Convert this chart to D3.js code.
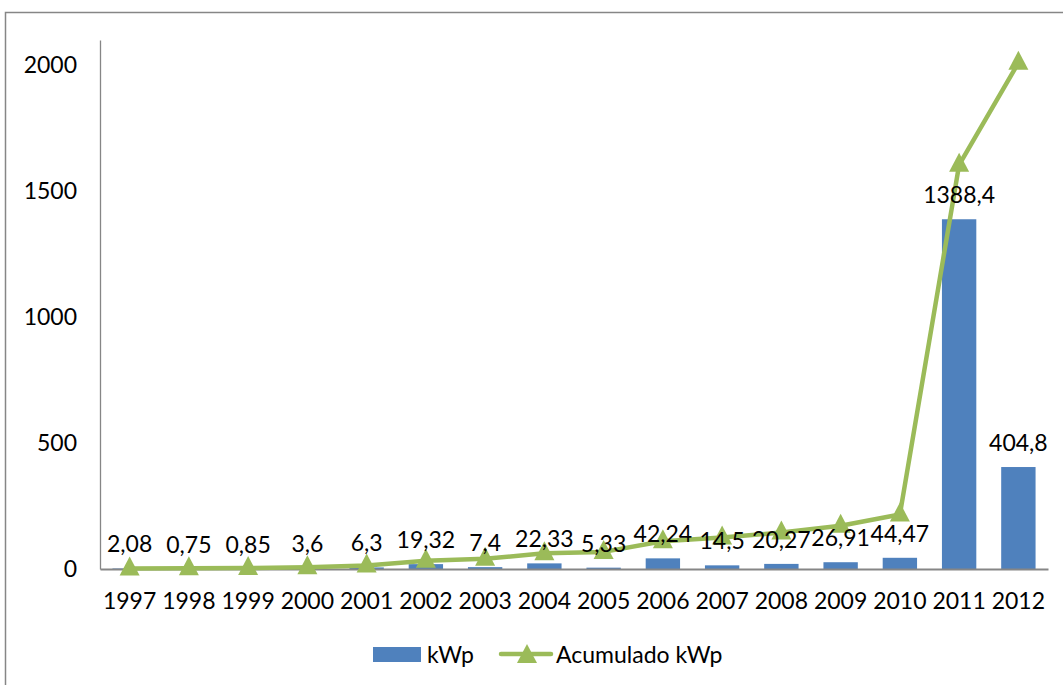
<!DOCTYPE html>
<html>
<head>
<meta charset="utf-8">
<script src="https://cdn.jsdelivr.net/npm/d3@7"></script>
<style>
  html, body { margin: 0; padding: 0; background: #ffffff; }
  svg { display: block; }
  text { font-family: Lato, "Open Sans", sans-serif; fill: #000; }
</style>
</head>
<body>
<script>
// Annual installed photovoltaic capacity and running total
const years = ["1997","1998","1999","2000","2001","2002","2003","2004","2005","2006","2007","2008","2009","2010","2011","2012"];
const kwp = [2.08, 0.75, 0.85, 3.6, 6.3, 19.32, 7.4, 22.33, 5.33, 42.24, 14.5, 20.27, 26.91, 44.47, 1388.4, 404.8];
const acumulado = [2.08, 2.83, 3.68, 7.28, 13.58, 32.9, 40.3, 62.63, 67.96, 110.2, 124.7, 144.97, 171.88, 216.35, 1604.75, 2009.55];
const yTicks = [0, 500, 1000, 1500, 2000];
const seriesNames = ["kWp", "Acumulado kWp"];

const W = 1063, H = 685;
const blue = "#4F81BD", green = "#9BBB59", axisGray = "#868686";
const fontSize = 23;

const svg = d3.select("body").append("svg").attr("width", W).attr("height", H);

// chart frame
svg.append("rect")
  .attr("x", 5.5).attr("y", 12.5).attr("width", 1100).attr("height", 700)
  .attr("fill", "none").attr("stroke", axisGray).attr("stroke-width", 1.5);

const x = d3.scaleBand().domain(years).range([100, 1048]).paddingInner(0.42).paddingOuter(0.21);
const y = d3.scaleLinear().domain([0, 2100]).range([569, 40]);

// y axis: labels only, plus the vertical line
const yAxis = svg.append("g").attr("transform", "translate(100,0)")
  .call(d3.axisLeft(y).tickValues(yTicks).tickSize(0).tickPadding(23).tickFormat(d3.format("d")));
yAxis.select(".domain").attr("stroke", axisGray).attr("stroke-width", 1.3);
yAxis.selectAll("text").style("font-size", fontSize + "px").style("font-family", "Lato, sans-serif").attr("fill", "#000");

// bars
svg.append("g").selectAll("rect").data(kwp).join("rect")
  .attr("x", (d, i) => x(years[i]))
  .attr("width", x.bandwidth())
  .attr("y", d => y(d))
  .attr("height", d => y(0) - y(d))
  .attr("fill", blue);

// x axis
const xAxis = svg.append("g").attr("transform", `translate(0,${y(0)})`)
  .call(d3.axisBottom(x).tickSize(0).tickPadding(24).tickSizeOuter(0));
xAxis.select(".domain").attr("stroke", axisGray).attr("stroke-width", 2);
xAxis.selectAll("text").style("font-size", fontSize + "px").style("font-family", "Lato, sans-serif").attr("fill", "#000");

// cumulative line
const cx = i => x(years[i]) + x.bandwidth() / 2;
const line = d3.line().x((d, i) => cx(i)).y(d => y(d));
svg.append("path").datum(acumulado)
  .attr("d", line)
  .attr("fill", "none").attr("stroke", green).attr("stroke-width", 4.5)
  .attr("stroke-linejoin", "round").attr("stroke-linecap", "round");

const tri = "M0,-12 L10,7 L-10,7 Z";
svg.append("g").selectAll("path").data(acumulado).join("path")
  .attr("d", tri)
  .attr("transform", (d, i) => `translate(${cx(i)},${y(d)})`)
  .attr("fill", green);

// value labels above bars
svg.append("g").selectAll("text").data(kwp).join("text")
  .attr("x", (d, i) => cx(i))
  .attr("y", d => y(d) - 16)
  .attr("text-anchor", "middle")
  .style("font-size", fontSize + "px")
  .text(d => String(d).replace(".", ","));

// legend
const lg = svg.append("g");
lg.append("rect").attr("x", 373).attr("y", 647).attr("width", 48).attr("height", 15).attr("fill", blue);
lg.append("text").attr("x", 427).attr("y", 663).style("font-size", fontSize + "px").text(seriesNames[0]);
lg.append("line").attr("x1", 501).attr("x2", 551).attr("y1", 654).attr("y2", 654)
  .attr("stroke", green).attr("stroke-width", 4.5).attr("stroke-linecap", "round");
lg.append("path").attr("d", tri).attr("transform", "translate(527,656)").attr("fill", green);
lg.append("text").attr("x", 556).attr("y", 663).style("font-size", fontSize + "px").text(seriesNames[1]);
</script>
</body>
</html>
